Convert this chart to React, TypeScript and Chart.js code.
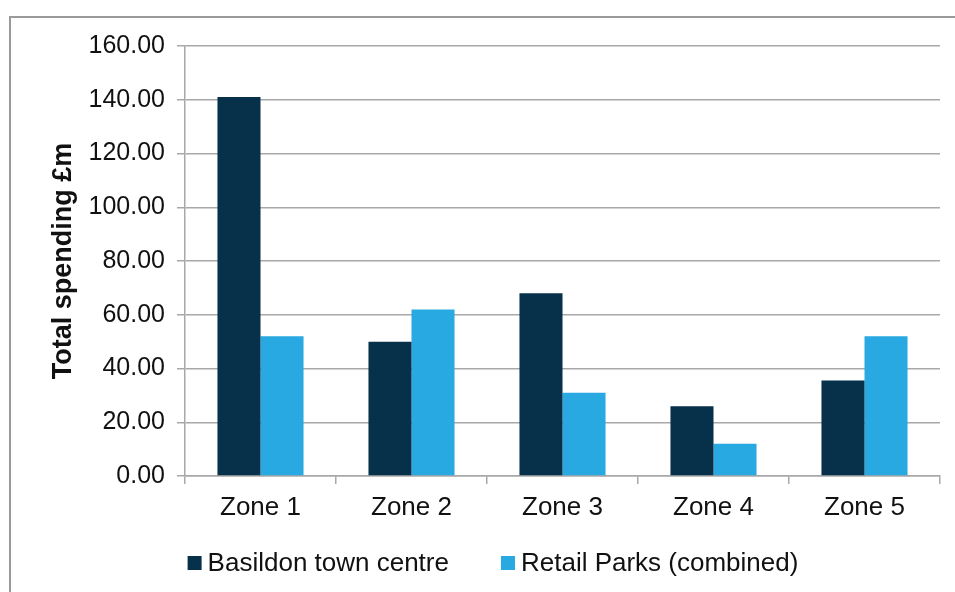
import React, { useEffect, useRef } from "react";
import { Chart, registerables } from "chart.js";

Chart.register(...registerables);

const categories = ["Zone 1", "Zone 2", "Zone 3", "Zone 4", "Zone 5"];
const basildonTownCentre = [141, 50, 68, 26, 35.5];
const retailParksCombined = [52, 62, 31, 12, 52];
const seriesLabels = ["Basildon town centre", "Retail Parks (combined)"];
const seriesColors = ["#07304a", "#29a9e1"];
const yTitle = "Total spending £m";

const FONT = "'Liberation Sans', Arial, sans-serif";

const framePlugin = {
  id: "frame",
  beforeDraw(chart: any) {
    const ctx = chart.ctx;
    ctx.save();
    ctx.fillStyle = "#ffffff";
    ctx.fillRect(0, 0, chart.width, chart.height);
    ctx.strokeStyle = "#9a9a9a";
    ctx.lineWidth = 2;
    ctx.beginPath();
    ctx.moveTo(10, chart.height);
    ctx.lineTo(10, 17);
    ctx.lineTo(chart.width, 17);
    ctx.stroke();
    ctx.restore();
  },
};

const legendPlugin = {
  id: "customLegend",
  afterDraw(chart: any) {
    const ctx = chart.ctx;
    ctx.save();
    ctx.font = `26px ${FONT}`;
    ctx.textBaseline = "middle";
    const box = 14;
    const textGap = 6;
    const itemGap = 52;
    const ds = chart.data.datasets;
    const widths = ds.map((d: any) => box + textGap + ctx.measureText(d.label).width);
    const total = widths.reduce((a: number, b: number) => a + b, 0) + itemGap * (ds.length - 1);
    const cx = 493;
    const cy = 563;
    let x = cx - total / 2;
    ds.forEach((d: any, i: number) => {
      ctx.fillStyle = d.backgroundColor;
      ctx.fillRect(x, cy - box / 2, box, box);
      ctx.fillStyle = "#111111";
      ctx.fillText(d.label, x + box + textGap, cy + 1);
      x += widths[i] + itemGap;
    });
    ctx.restore();
  },
};

export default function App() {
  const canvasRef = useRef<HTMLCanvasElement | null>(null);

  useEffect(() => {
    if (!canvasRef.current) return;
    const gridColor = "#a8a8a8";
    const chart = new Chart(canvasRef.current, {
      type: "bar",
      data: {
        labels: categories,
        datasets: [
          {
            label: seriesLabels[0],
            data: basildonTownCentre,
            backgroundColor: seriesColors[0],
            categoryPercentage: 0.57,
            barPercentage: 1.0,
          },
          {
            label: seriesLabels[1],
            data: retailParksCombined,
            backgroundColor: seriesColors[1],
            categoryPercentage: 0.57,
            barPercentage: 1.0,
          },
        ],
      },
      options: {
        animation: false,
        responsive: false,
        maintainAspectRatio: false,
        layout: { padding: { left: 0, right: 15, top: 46, bottom: 0 } },
        plugins: {
          legend: { display: false },
          tooltip: { enabled: false },
        },
        scales: {
          x: {
            grid: {
              display: true,
              drawOnChartArea: false,
              drawTicks: true,
              tickLength: 8,
              color: gridColor,
              lineWidth: 1.5,
              offset: true,
            },
            border: { display: true, color: gridColor, width: 1.5 },
            ticks: {
              color: "#111111",
              font: { family: FONT, size: 26 },
              padding: 8,
            },
            afterFit(scale: any) {
              scale.height = 116;
            },
          },
          y: {
            min: 0,
            max: 160,
            ticks: {
              stepSize: 20,
              color: "#111111",
              font: { family: FONT, size: 25 },
              padding: 12,
              callback: (v: any) => Number(v).toFixed(2),
            },
            grid: {
              color: gridColor,
              lineWidth: 1.5,
              tickLength: 8,
              drawTicks: true,
            },
            border: { display: true, color: gridColor, width: 1.5 },
            title: {
              display: true,
              text: yTitle,
              color: "#111111",
              font: { family: FONT, size: 27, weight: "bold" },
              padding: { top: 47, bottom: 0 },
            },
            afterFit(scale: any) {
              scale.width = 185;
            },
          },
        },
      },
      plugins: [framePlugin, legendPlugin],
    });
    return () => chart.destroy();
  }, []);

  return (
    <div style={{ position: "fixed", left: 0, top: 0, width: 955, height: 592, background: "#fff" }}>
      <canvas ref={canvasRef} width={955} height={592} style={{ width: 955, height: 592, display: "block" }} />
    </div>
  );
}
